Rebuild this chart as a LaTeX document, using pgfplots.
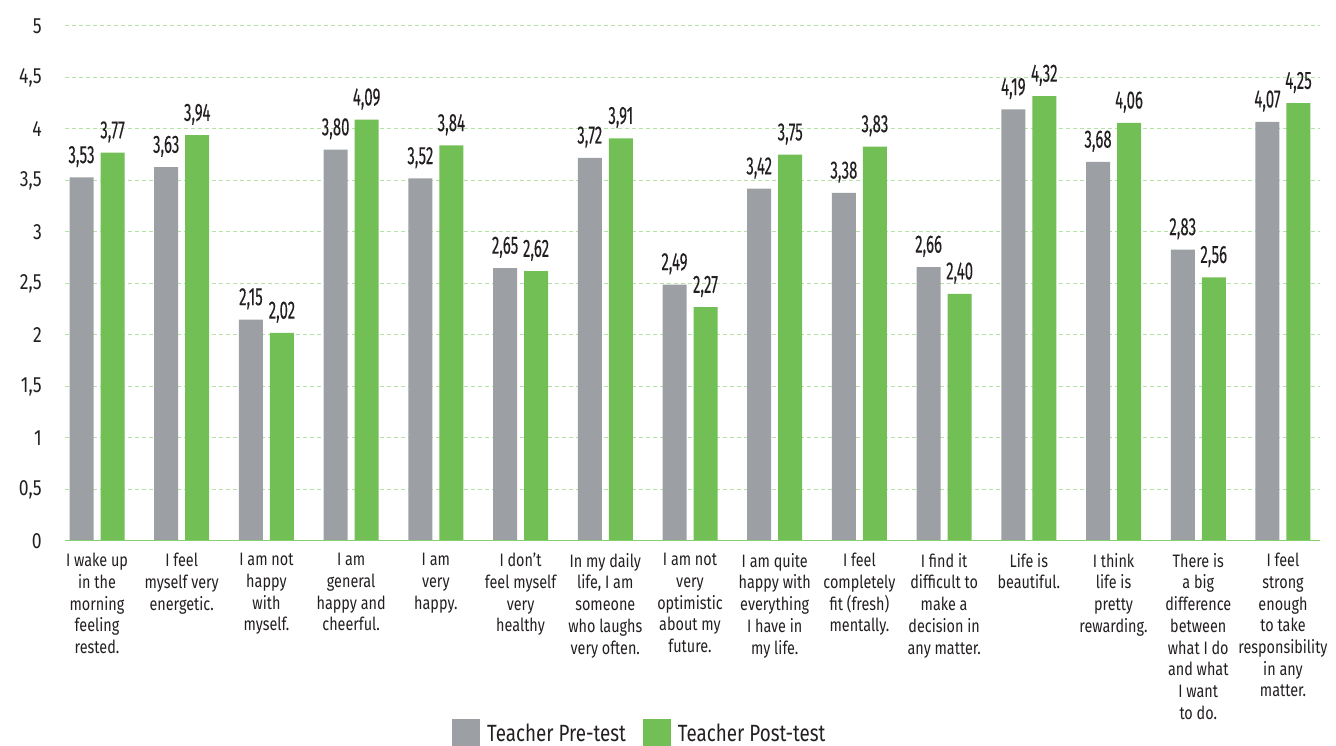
\documentclass[border=0pt]{standalone}
\usepackage{fontspec}
\usepackage{pgfplots}
\pgfplotsset{compat=1.18}
\setmainfont{Fira Sans}[FakeStretch=0.8]
\newfontfamily\barfont{Fira Sans}[FakeStretch=0.6, FakeBold=0.15]
\definecolor{pregrey}{HTML}{9C9FA3}
\definecolor{postgreen}{HTML}{72BF56}
\definecolor{gridgreen}{HTML}{B4E2A4}
\definecolor{axisgreen}{HTML}{86CF6E}
\definecolor{txt}{HTML}{231F20}
\begin{document}
\begin{tikzpicture}[x=1pt,y=1pt]
\path[use as bounding box] (-65pt,-205pt) rectangle (1271pt,541pt);
\begin{axis}[
  at={(0pt,0pt)}, anchor=south west,
  scale only axis, width=1255pt, height=515pt,
  xmin=-0.378, xmax=14.437, ymin=0, ymax=5,
  ybar=7pt, bar width=24pt,
  axis line style={draw=none},
  major tick length=0pt,
  ytick={0,0.5,...,5},
  ymajorgrids,
  grid style={dash pattern=on 4pt off 3pt, color=gridgreen, line width=1pt},
  /pgf/number format/assume math mode=true,
  yticklabel style={/pgf/number format/use comma, /pgf/number format/fixed, font=\fontsize{22}{24}\selectfont, text=txt, anchor=east, inner sep=0pt},
  yticklabel shift=23pt,
  xtick={0,...,14},
  xticklabels={
    {I wake up\\in the\\morning\\feeling\\rested.},
    {I feel\\myself very\\energetic.},
    {I am not\\happy\\with\\myself.},
    {I am\\general\\happy and\\cheerful.},
    {I am\\very\\happy.},
    {I don't\\feel myself\\very\\healthy},
    {In my daily\\life, I am\\someone\\who laughs\\very often.},
    {I am not\\very\\optimistic\\about my\\future.},
    {I am quite\\happy with\\everything\\I have in\\my life.},
    {I feel\\completely\\fit (fresh)\\mentally.},
    {I find it\\difficult to\\make a\\decision in\\any matter.},
    {Life is\\beautiful.},
    {I think\\life is\\pretty\\rewarding.},
    {There is\\a big\\difference\\between\\what I do\\and what\\I want\\to do.},
    {I feel\\strong\\enough\\to take\\responsibility\\in any\\matter.}},
  xticklabel style={align=center, font=\fontsize{18}{21.7}\selectfont, text=txt, anchor=north, inner sep=0pt},
  xticklabel shift=12pt,
  nodes near coords,
  nodes near coords style={font=\barfont\fontsize{25}{25}\selectfont, text=txt, inner sep=0pt, anchor=south, yshift=10pt,
    /pgf/number format/.cd, use comma, fixed, fixed zerofill, precision=2},
  legend columns=2,
  legend style={at={(0.3084,-0.3728)}, anchor=west, draw=none, fill=none, inner sep=0pt,
    font=\fontsize{23.5}{24}\selectfont, text=txt,
    /tikz/every even column/.append style={column sep=17pt},
    nodes={inner sep=0pt, anchor=west}},
  legend image code/.code={\path[#1, draw=none] (0pt,-14pt) rectangle (28pt,14pt);},
  legend cell align=left,
]
\addplot[fill=pregrey, draw=none] coordinates {
(0,3.53) (1,3.63) (2,2.15) (3,3.80) (4,3.52) (5,2.65) (6,3.72) (7,2.49)
(8,3.42) (9,3.38) (10,2.66) (11,4.19) (12,3.68) (13,2.83) (14,4.07)};
\addplot[fill=postgreen, draw=none] coordinates {
(0,3.77) (1,3.94) (2,2.02) (3,4.09) (4,3.84) (5,2.62) (6,3.91) (7,2.27)
(8,3.75) (9,3.83) (10,2.40) (11,4.32) (12,4.06) (13,2.56) (14,4.25)};
\legend{\hspace{7pt}Teacher Pre-test, \hspace{7pt}Teacher Post-test}
\draw[axisgreen, line width=1.5pt] (rel axis cs:0,0) -- (rel axis cs:1,0);
\end{axis}
\end{tikzpicture}
\end{document}
